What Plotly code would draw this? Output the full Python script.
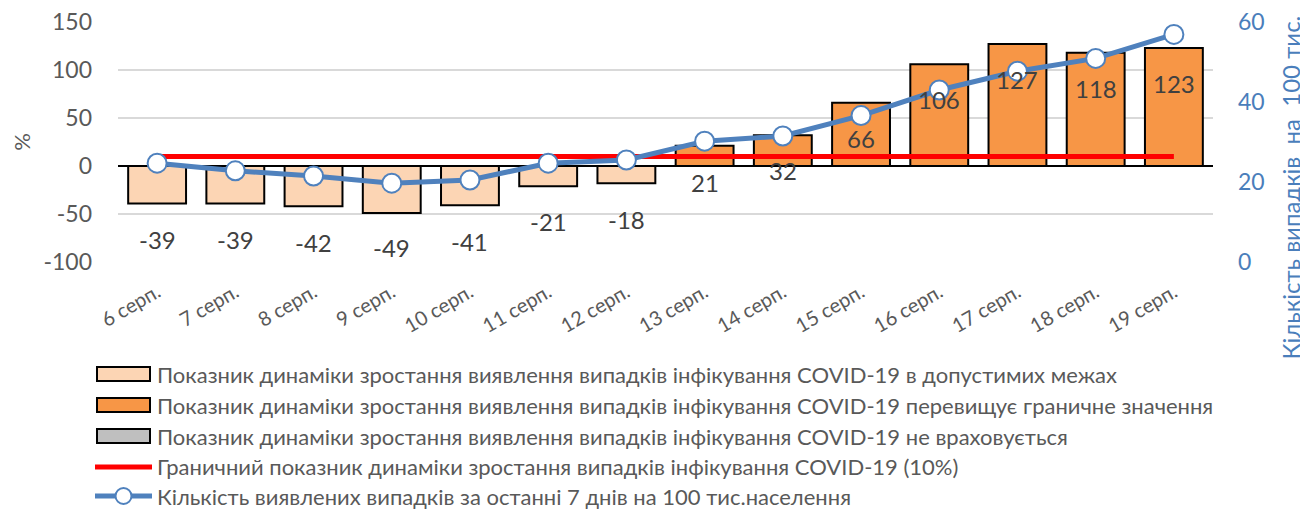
import plotly.graph_objects as go

categories = ["6 серп.", "7 серп.", "8 серп.", "9 серп.", "10 серп.", "11 серп.", "12 серп.",
              "13 серп.", "14 серп.", "15 серп.", "16 серп.", "17 серп.", "18 серп.", "19 серп."]
growth_pct = [-39, -39, -42, -49, -41, -21, -18, 21, 32, 66, 106, 127, 118, 123]
threshold_pct = [10] * 14
cases_per_100k = [24.7, 22.8, 21.5, 19.7, 20.5, 24.7, 25.5, 30.2, 31.5, 36.6, 43.0, 47.7, 50.9, 56.9]
left_ticks = [-100, -50, 0, 50, 100, 150]
left_tick_text = ["-100", "-50", "0", "50", "100", "150"]
right_ticks = [0, 20, 40, 60]
# vertical positions of the data labels (in % axis units), as placed in the original
label_y = [-77, -77, -80, -85, -79, -58, -56, -17, -5, 29, 69, 90, 81, 86]

names = [
    "Показник динаміки зростання виявлення випадків інфікування COVID-19 в допустимих межах",
    "Показник динаміки зростання виявлення випадків інфікування COVID-19 перевищує граничне значення",
    "Показник динаміки зростання виявлення випадків інфікування COVID-19 не враховується",
    "Граничний показник динаміки зростання випадків інфікування COVID-19 (10%)",
    "Кількість виявлених випадків за останні 7 днів на 100 тис.населення",
]

FONT = "Lato"
GRAY = "#595959"
BLUE_TXT = "#4A7EBB"
LIGHT = "#FCD5B4"
ORANGE = "#F79646"
GREYBAR = "#BFBFBF"
RED = "#FF0000"
BLUE = "#4F81BD"

within = [v if v <= t else None for v, t in zip(growth_pct, threshold_pct)]
above = [v if v > t else None for v, t in zip(growth_pct, threshold_pct)]
ignored = [None] * len(categories)

fig = go.Figure()
for vals, col, nm in [(within, LIGHT, names[0]), (above, ORANGE, names[1]), (ignored, GREYBAR, names[2])]:
    fig.add_trace(go.Bar(x=categories, y=vals, name=nm, width=0.74, showlegend=False,
                         marker=dict(color=col, line=dict(color="black", width=2))))
fig.add_trace(go.Scatter(x=categories, y=threshold_pct, name=names[3], mode="lines",
                         showlegend=False, line=dict(color=RED, width=5)))
fig.add_trace(go.Scatter(x=categories, y=cases_per_100k, name=names[4], mode="lines+markers",
                         yaxis="y2", showlegend=False,
                         line=dict(color=BLUE, width=5),
                         marker=dict(size=19, color="white", line=dict(color=BLUE, width=2))))

for c, v, ly in zip(categories, growth_pct, label_y):
    fig.add_annotation(x=c, y=ly, xref="x", yref="y", text=str(v), showarrow=False,
                       font=dict(family=FONT, size=24, color="#404040"))

# right axis title
fig.add_annotation(x=1.0712, y=0.31, xref="paper", yref="paper", xanchor="center", yanchor="middle",
                   text="Кількість випадків  на  100 тис.", textangle=-90, showarrow=False,
                   font=dict(family=FONT, size=24, color=BLUE_TXT))

# legend drawn manually (plot area in page pixels: x 118..1213, y 22..262)
PX_W, PX_H, PX_L, PX_B = 1095, 240, 118, 262
def px_x(x):
    return (x - PX_L) / PX_W
def px_y(y):
    return (PX_B - y) / PX_H

row_y = [374, 405, 436, 467, 496]
sym_x0, sym_x1, text_x = 97, 150, 155
shapes = []
for i, col in enumerate([LIGHT, ORANGE, GREYBAR]):
    yc = row_y[i]
    shapes.append(dict(type="rect", xref="paper", yref="paper",
                       x0=px_x(sym_x0), x1=px_x(sym_x1), y0=px_y(yc + 7), y1=px_y(yc - 7),
                       fillcolor=col, line=dict(color="black", width=2)))
shapes.append(dict(type="line", xref="paper", yref="paper",
                   x0=px_x(sym_x0 - 2), x1=px_x(sym_x1 + 2), y0=px_y(row_y[3]), y1=px_y(row_y[3]),
                   line=dict(color=RED, width=5)))
shapes.append(dict(type="line", xref="paper", yref="paper",
                   x0=px_x(sym_x0 - 2), x1=px_x(sym_x1 + 2), y0=px_y(row_y[4]), y1=px_y(row_y[4]),
                   line=dict(color=BLUE, width=5)))
shapes.append(dict(type="circle", xref="paper", yref="paper", xsizemode="pixel", ysizemode="pixel",
                   xanchor=px_x((sym_x0 + sym_x1) / 2), yanchor=px_y(row_y[4]),
                   x0=-8, x1=8, y0=-8, y1=8, fillcolor="white", line=dict(color=BLUE, width=2)))
for i, nm in enumerate(names):
    fig.add_annotation(x=px_x(text_x), y=px_y(row_y[i]), xref="paper", yref="paper",
                       xanchor="left", yanchor="middle", text=nm, showarrow=False,
                       font=dict(family=FONT, size=22, color=GRAY))

# the page body has an 8px margin, so the figure is 8px smaller and shifted
fig.update_layout(
    width=1300, height=501,
    margin=dict(l=110, r=95, t=14, b=247),
    paper_bgcolor="white", plot_bgcolor="white",
    barmode="overlay",
    font=dict(family=FONT, color=GRAY),
    showlegend=False,
    shapes=shapes,
    xaxis=dict(range=[-0.5, len(categories) - 0.5], tickangle=-30,
               tickfont=dict(family=FONT, size=20, color=GRAY), ticklabelstandoff=14,
               showgrid=False, showline=False, ticks="", automargin=False),
    yaxis=dict(range=[-100, 150], tickvals=left_ticks, ticktext=left_tick_text,
               tickfont=dict(family=FONT, size=23, color=GRAY), ticklabeloverflow="allow",
               gridcolor="#D9D9D9", gridwidth=1.5, zeroline=True, zerolinecolor="black",
               zerolinewidth=2, showline=False, ticks="", ticklabelstandoff=25, automargin=False,
               title=dict(text="%", font=dict(family=FONT, size=22, color=GRAY), standoff=21)),
    yaxis2=dict(range=[0, 60], tickvals=right_ticks, overlaying="y", side="right", showgrid=False,
                zeroline=False, showline=False, ticks="", automargin=False, ticklabeloverflow="allow",
                tickfont=dict(family=FONT, size=23, color=BLUE_TXT), ticklabelstandoff=24),
)

fig.write_html("out.html")
